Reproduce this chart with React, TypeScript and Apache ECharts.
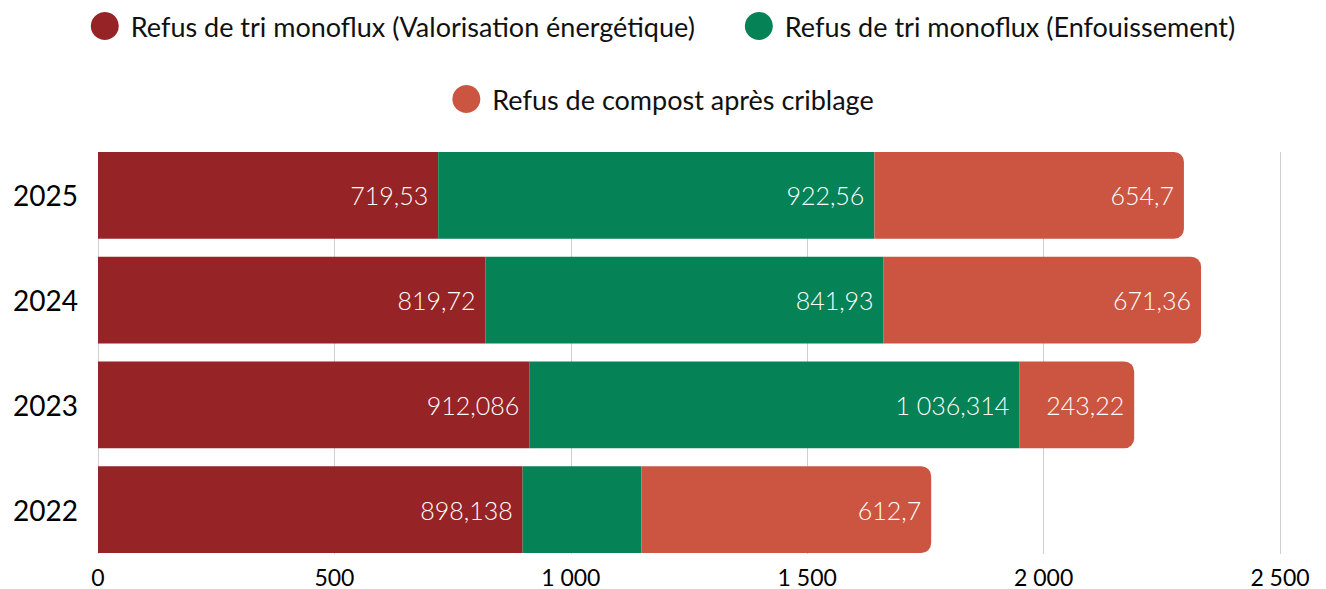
import React, { useEffect, useRef } from "react";
import * as echarts from "echarts";

const years = ["2022", "2023", "2024", "2025"];
const seriesNames = [
  "Refus de tri monoflux (Valorisation énergétique)",
  "Refus de tri monoflux (Enfouissement)",
  "Refus de compost après criblage",
];
const valorisation = [898.138, 912.086, 819.72, 719.53];
const enfouissement = [251.4, 1036.314, 841.93, 922.56];
const compost = [612.7, 243.22, 671.36, 654.7];
const hiddenLabels = [[], [0], []];
const colors = ["#962325", "#058256", "#CB5540"];
const xMin = 0;
const xMax = 2500;
const xInterval = 500;

const FONT = "Lato";

function fmtThousands(intPart: string) {
  return intPart.replace(/\B(?=(\d{3})+(?!\d))/g, " ");
}
function fmtValue(v: number) {
  const s = String(v);
  const [i, d] = s.split(".");
  return fmtThousands(i) + (d ? "," + d : "");
}

export default function App() {
  const ref = useRef<HTMLDivElement>(null);
  useEffect(() => {
    if (!ref.current) return;
    const chart = echarts.init(ref.current, null, { renderer: "svg" });
    const datasets = [valorisation, enfouissement, compost];
    const series = datasets.map((arr, si) => ({
      name: seriesNames[si],
      type: "bar",
      stack: "total",
      xAxisIndex: 0,
      yAxisIndex: 0,
      barCategoryGap: "17%",
      itemStyle: {
        color: colors[si],
        borderRadius: si === 2 ? [0, 10, 10, 0] : 0,
      },
      label: {
        show: true,
        position: "insideRight",
        distance: 10,
        color: "#ffffff",
        fontFamily: FONT,
        fontSize: 25,
        fontWeight: 300,
        formatter: (p: any) => fmtValue(p.value),
      },
      data: arr.map((v, i) =>
        hiddenLabels[si].includes(i as never)
          ? { value: v, label: { show: false } }
          : v
      ),
    }));
    const legendText = {
      fontFamily: FONT,
      fontSize: 27,
      color: "#111",
      padding: [0, 0, 0, 7],
    };
    chart.setOption({
      animation: false,
      legend: [
        {
          data: [seriesNames[0], seriesNames[1]],
          top: 7,
          left: "center",
          icon: "circle",
          itemWidth: 28,
          itemHeight: 28,
          itemGap: 50,
          textStyle: legendText,
        },
        {
          data: [seriesNames[2]],
          top: 80,
          left: "center",
          icon: "circle",
          itemWidth: 28,
          itemHeight: 28,
          textStyle: legendText,
        },
      ],
      grid: [
        { left: 98, right: 46, top: 143, bottom: 27, containLabel: false },
        { left: 98, right: 46, top: 152, bottom: 35, containLabel: false },
      ],
      xAxis: [
        {
          type: "value",
          gridIndex: 0,
          min: xMin,
          max: xMax,
          interval: xInterval,
          splitLine: { show: false },
          axisLine: { show: false },
          axisTick: { show: false },
          axisLabel: {
            margin: 3,
            color: "#000",
            fontFamily: FONT,
            fontSize: 23,
            lineHeight: 23,
            formatter: (v: number) => fmtThousands(String(v)),
          },
        },
        {
          type: "value",
          gridIndex: 1,
          min: xMin,
          max: xMax,
          interval: xInterval,
          splitLine: { show: true, lineStyle: { color: "#d0d0d0", width: 1 } },
          axisLine: { show: false },
          axisTick: { show: false },
          axisLabel: { show: false },
        },
      ],
      yAxis: [
        {
          type: "category",
          gridIndex: 0,
          data: years,
          axisLine: { show: false },
          axisTick: { show: false },
          axisLabel: {
            margin: 20,
            color: "#000",
            fontFamily: FONT,
            fontSize: 28,
          },
        },
        {
          type: "category",
          gridIndex: 1,
          data: years,
          show: false,
        },
      ],
      series,
    });
    return () => chart.dispose();
  }, []);
  return (
    <div
      ref={ref}
      style={{ position: "absolute", left: 0, top: 0, width: 1326, height: 589 }}
    />
  );
}
